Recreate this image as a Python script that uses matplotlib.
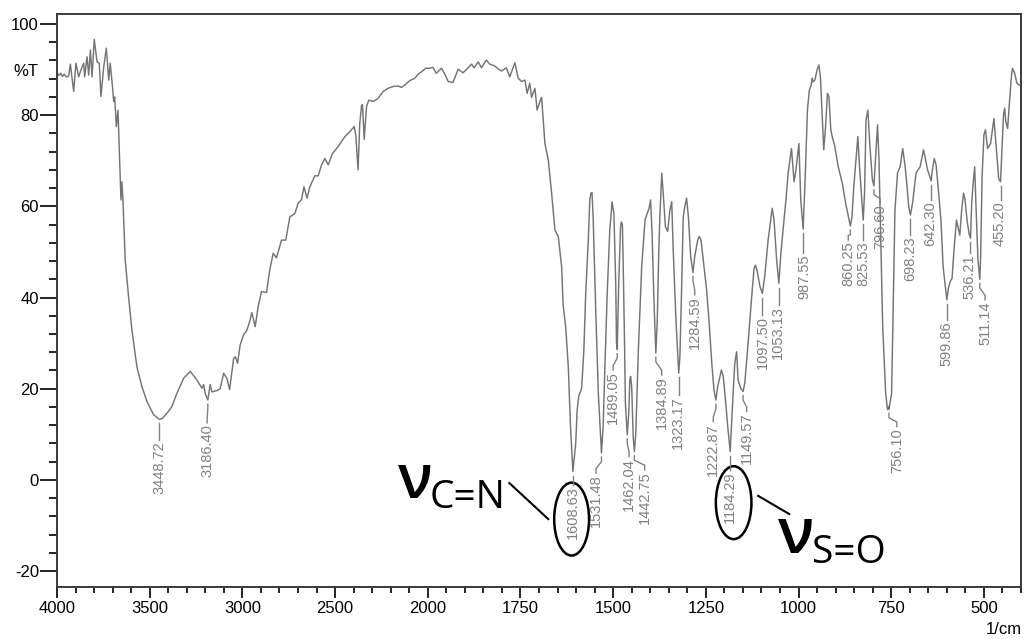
import numpy as np
import matplotlib.pyplot as plt
from matplotlib.patches import Ellipse

# IR spectrum (1/cm, %T)
wavenumber = [4000, 3990, 3980, 3970, 3960, 3950, 3937, 3928, 3910, 3898, 3883, 3871, 3856, 3851,
              3838, 3829, 3820, 3811, 3799, 3784, 3772, 3763, 3748, 3734, 3721, 3713, 3704, 3694,
              3689, 3680, 3671, 3662, 3655, 3650, 3644, 3632, 3614, 3596, 3569, 3542, 3515, 3479,
              3448.72, 3434, 3407, 3380, 3353, 3317, 3281, 3245, 3218, 3209, 3200, 3186.40, 3174,
              3164, 3137, 3120, 3101, 3083, 3069, 3047, 3038, 3026, 3012, 2994, 2976, 2961, 2949,
              2931, 2915, 2897, 2870, 2852, 2834, 2816, 2789, 2766, 2744, 2717, 2699, 2681, 2668,
              2651, 2636, 2609, 2591, 2573, 2555, 2537, 2514, 2484, 2447, 2420, 2397, 2388, 2376,
              2367, 2357, 2352, 2343, 2330, 2318, 2295, 2282, 2268, 2241, 2214, 2187, 2160, 2142,
              2124, 2097, 2070, 2052, 2034, 2012, 1995, 1986, 1977, 1963, 1954, 1945, 1932, 1918,
              1905, 1896, 1882, 1875, 1864, 1855, 1842, 1833, 1819, 1810, 1801, 1788, 1779, 1765,
              1756, 1747, 1738, 1732, 1725, 1720, 1711, 1705, 1698, 1693, 1684, 1675, 1666, 1657,
              1648, 1639, 1635, 1628, 1621, 1615, 1608.63, 1601, 1597, 1593, 1585, 1579, 1574,
              1567, 1563, 1560, 1557, 1554, 1547, 1540, 1531.48, 1527, 1522, 1516, 1509, 1506,
              1503, 1498, 1493, 1491, 1489.05, 1485, 1480, 1478, 1475, 1472, 1469, 1467, 1462.04,
              1458, 1455, 1453, 1450, 1446, 1442.75, 1439, 1432, 1423, 1414, 1408, 1403, 1399,
              1395, 1390, 1384.89, 1381, 1377, 1374, 1369, 1365, 1359, 1353, 1347, 1342, 1338,
              1331, 1323.17, 1320, 1315, 1311, 1306, 1302, 1297, 1291, 1284.59, 1280, 1272, 1268,
              1263, 1257, 1248, 1241, 1234, 1228, 1222.87, 1218, 1214, 1208, 1203, 1197, 1191,
              1184.29, 1181, 1176, 1172, 1167, 1163, 1156, 1149.57, 1145, 1136, 1127, 1120, 1116,
              1111, 1104, 1097.50, 1091, 1082, 1074, 1071, 1066, 1059, 1053.13, 1048, 1041, 1034,
              1028, 1022, 1019, 1012, 1007, 1003, 999, 994, 987.55, 982, 976, 971, 966, 963, 961,
              956, 950, 945, 941, 936, 932, 927, 922, 918, 913, 908, 903, 893, 882, 873, 860.25,
              856, 851, 840, 835, 825.53, 822, 818, 813, 808, 801, 796.60, 792, 787, 783, 779, 773,
              765, 760, 757, 756.10, 749, 744, 740, 733, 726, 719, 713, 708, 703, 698.23, 692, 683,
              672, 663, 659, 652, 642.30, 639, 634, 629, 622, 616, 610, 605, 599.86, 596, 591, 586,
              580, 574, 570, 565, 560, 555, 551, 545, 540, 536.21, 533, 529, 525, 521, 516, 511.14,
              509, 505, 500, 496, 490, 482, 473, 467, 460, 455.20, 451, 447, 444, 441, 436, 432,
              426, 423, 417, 411, 404, 400]
transmittance = [89.4, 88.7, 89.2, 88.5, 89.0, 88.4, 88.6, 91.2, 85.2, 91.4, 88.4, 89.9, 91.4, 88.4,
                 92.8, 88.8, 94.3, 88.4, 96.6, 91.7, 91.4, 84.1, 90.6, 94.7, 87.7, 91.4, 87.7, 83.0,
                 84.0, 77.5, 81.1, 70.2, 61.4, 65.4, 61.2, 48.2, 40.2, 32.9, 24.8, 20.5, 17.2, 14.3,
                 13.3, 13.4, 14.6, 16.1, 19.0, 22.3, 23.8, 21.9, 20.1, 20.9, 18.9, 17.5, 20.9,
                 19.3, 19.6, 20.0, 23.4, 22.2, 19.8, 26.7, 27.0, 25.6, 29.6, 31.8, 32.8, 34.7, 36.7,
                 33.6, 38.0, 41.3, 41.1, 46.1, 49.7, 48.7, 52.6, 52.6, 57.7, 58.4, 60.7, 61.5, 64.3,
                 61.8, 64.3, 66.7, 66.7, 69.1, 70.5, 69.1, 71.6, 73.1, 75.3, 76.4, 77.5, 75.5, 68.0,
                 78.1, 82.2, 82.3, 74.7, 82.0, 83.3, 83.0, 83.3, 83.7, 85.2, 85.9, 86.3, 86.4, 86.1,
                 86.6, 87.6, 88.1, 89.0, 89.5, 90.3, 90.3, 90.5, 89.2, 90.3, 89.0, 87.4, 87.2, 90.1,
                 89.3, 90.0, 91.2, 90.4, 91.7, 90.4, 92.1, 91.2, 90.8, 90.1, 89.7, 90.4, 88.4, 91.5,
                 88.1, 87.4, 87.7, 84.8, 87.0, 83.9, 85.9, 81.1, 82.9, 83.9, 73.8, 70.2, 62.9, 54.8,
                 53.4, 46.8, 38.4, 33.6, 24.8, 11.7, 1.8, 8.0, 15.4, 18.3, 20.1, 28.5, 40.9,
                 52.6, 61.4, 62.9, 63.0, 57.7, 37.3, 19.0, 5.9, 11.7, 25.5, 40.9, 55.0, 57.7,
                 61.0, 58.5, 43.1, 30.0, 28.6, 43.1, 55.5, 56.6, 56.0, 43.1, 28.5, 16.8, 9.9,
                 14.5, 21.9, 22.7, 20.5, 9.5, 6.2, 10.2, 28.5, 46.8, 57.0, 58.5, 59.6, 61.4,
                 54.1, 39.5, 27.8, 35.0, 50.0, 57.7, 67.3, 62.9, 55.5, 54.5, 59.2, 61.0, 50.4,
                 35.8, 23.4, 27.0, 43.1, 57.7, 60.3, 61.8, 57.7, 49.0, 45.5, 49.0, 52.6, 53.4,
                 52.6, 48.2, 41.7, 34.4, 25.6, 19.7, 17.5, 20.5, 21.9, 24.1, 22.7, 17.5, 11.7,
                 6.2, 11.7, 19.7, 25.6, 28.1, 21.9, 20.1, 19.4, 21.2, 30.0, 39.5, 46.4, 47.1,
                 45.6, 42.4, 40.9, 44.8, 52.6, 57.7, 59.6, 57.0, 48.2, 43.1, 49.3, 55.5, 61.4,
                 67.3, 71.0, 72.7, 65.4, 68.0, 71.0, 73.8, 61.4, 55.0, 66.5, 81.1, 85.5, 86.6, 88.1, 87.3,
                 87.7, 89.9, 91.0, 88.4, 79.7, 72.4, 77.6, 84.8, 84.1, 76.8, 74.9, 73.5, 68.7, 65.1, 60.7, 55.7,
                 57.6, 64.3, 75.3, 68.0, 57.0, 62.9, 78.9, 81.1, 73.8, 66.0, 64.5, 71.0, 77.9, 70.2, 55.5, 33.6,
                 19.0, 15.4, 16.1, 15.5, 19.0, 40.9, 59.2, 67.3, 68.7, 72.7, 69.1, 65.0, 60.0, 58.1, 61.0, 67.3,
                 68.7, 72.4, 70.9, 68.0, 65.6, 68.0, 70.5, 69.1, 62.9, 57.0, 46.8, 43.0, 39.5, 42.0, 43.5, 44.2,
                 51.2, 57.0, 55.5, 53.7, 59.2, 62.9, 61.5, 56.6, 54.0, 53.0, 60.7, 65.1, 68.7, 59.2, 48.2, 44.0,
                 48.2, 66.5, 75.7, 76.8, 72.7, 73.8, 79.3, 73.1, 66.0, 65.4, 73.1, 80.4, 81.5, 78.6, 77.1, 81.8,
                 88.4, 90.3, 89.2, 87.0, 86.6, 86.5]

peak_wn = [3448.72, 3186.40, 1608.63, 1531.48, 1489.05, 1462.04, 1442.75, 1384.89, 1323.17,
           1284.59, 1222.87, 1184.29, 1149.57, 1097.50, 1053.13, 987.55, 860.25, 825.53,
           796.60, 756.10, 698.23, 642.30, 599.86, 536.21, 511.14, 455.20]

# where each peak label sits (label x in 1/cm, top of label in %T)
label_x = [3448.72, 3190, 1608.63, 1546, 1500, 1457, 1415, 1369, 1325,
           1280, 1230, 1184.29, 1140, 1095, 1055, 985, 866, 825,
           780, 735, 699, 644, 600, 539, 497, 457]
label_top = [8.8, 12.5, -1.1, 1.5, 24.1, 5.1, 2.2, 23.0, 18.6,
             40.6, 12.8, 2.2, 15.0, 36.2, 38.4, 49.8, 52.6, 52.6,
             60.7, 11.7, 53.7, 61.4, 35.1, 49.8, 39.5, 61.4]


# Shimadzu style axis: 4000-2000 at half the scale of 2000-400
def fwd(x):
    x = np.asarray(x, dtype=float)
    return np.where(x > 2000, 2000 + (x - 2000) / 2.0, x)


def inv(u):
    u = np.asarray(u, dtype=float)
    return np.where(u > 2000, 2000 + (u - 2000) * 2.0, u)


plt.rcParams['font.family'] = ['Liberation Sans', 'DejaVu Sans']
plt.rcParams['axes.unicode_minus'] = False

fig = plt.figure(figsize=(10.26, 6.39), dpi=100)
ax = fig.add_axes([57 / 1026, 1 - 587 / 639, 964 / 1026, 573 / 639])
ax.set_xscale('function', functions=(fwd, inv))

wn = np.array(wavenumber)
tr = np.array(transmittance)
ax.plot(wn, tr, color='#747474', lw=1.05)

ax.set_xlim(4000, 400)
ax.set_ylim(-23.5, 102.2)

ax.set_xticks([4000, 3500, 3000, 2500, 2000, 1750, 1500, 1250, 1000, 750, 500])
ax.set_xticks(list(range(3900, 2000, -100)) + list(range(1950, 399, -50)), minor=True)
ax.set_yticks([-20, 0, 20, 40, 60, 80, 100])
ax.set_yticks([v for v in range(-20, 101, 4) if v % 20 != 0], minor=True)
ax.tick_params(axis='x', which='major', length=8, width=1.2, labelsize=12, pad=2)
ax.tick_params(axis='x', which='minor', length=4, width=1.2)
ax.tick_params(axis='y', which='major', length=12, width=1.2, labelsize=12, pad=1)
ax.tick_params(axis='y', which='minor', length=6, width=1.2)
for s in ax.spines.values():
    s.set_color('#3a3a3a')
    s.set_linewidth(1.4)

ax.text(-0.019, 89.5, '%T', transform=ax.get_yaxis_transform(), ha='right', va='center', fontsize=12)
fig.text(1022 / 1026, 1 - 630 / 639, '1/cm', ha='right', va='center', fontsize=12)

# peak labels with leader lines
grey = '#808080'
for pw, lx, top in zip(peak_wn, label_x, label_top):
    pt = np.interp(pw, wn[::-1], tr[::-1])
    y0 = pt - 0.9
    if abs(lx - pw) < 3:
        ax.plot([pw, pw], [y0, top], color=grey, lw=1)
    else:
        ax.plot([pw, pw, lx, lx], [y0, y0 - 1.0, top + 1.0, top], color=grey, lw=1)
    ax.text(lx, top - 0.3, f'{pw:.2f}', rotation=90, ha='center', va='top',
            fontsize=10.5, color=grey)

# band assignments
ax.add_patch(Ellipse((1612, -8.6), 94, 16, fill=False, ec='black', lw=1.8))
ax.add_patch(Ellipse((1175, -5.0), 96, 16, fill=False, ec='black', lw=1.8))
ax.plot([1780, 1675], [-0.7, -8.6], color='black', lw=1.5)
ax.plot([1109, 1025], [-3.5, -7.5], color='black', lw=1.5)

big = ['Open Sans', 'DejaVu Sans']
ax.text(2162, -4.0, 'ν', family=big, fontsize=44, weight='semibold', ha='left', va='baseline')
ax.text(1995, -6.2, 'C=N', family=big, fontsize=28, ha='left', va='baseline')
ax.text(1056, -16.1, 'ν', family=big, fontsize=46, weight='semibold', ha='left', va='baseline')
ax.text(965, -18.3, 'S=O', family=big, fontsize=28, ha='left', va='baseline')

fig.savefig('out.png', dpi=100)
